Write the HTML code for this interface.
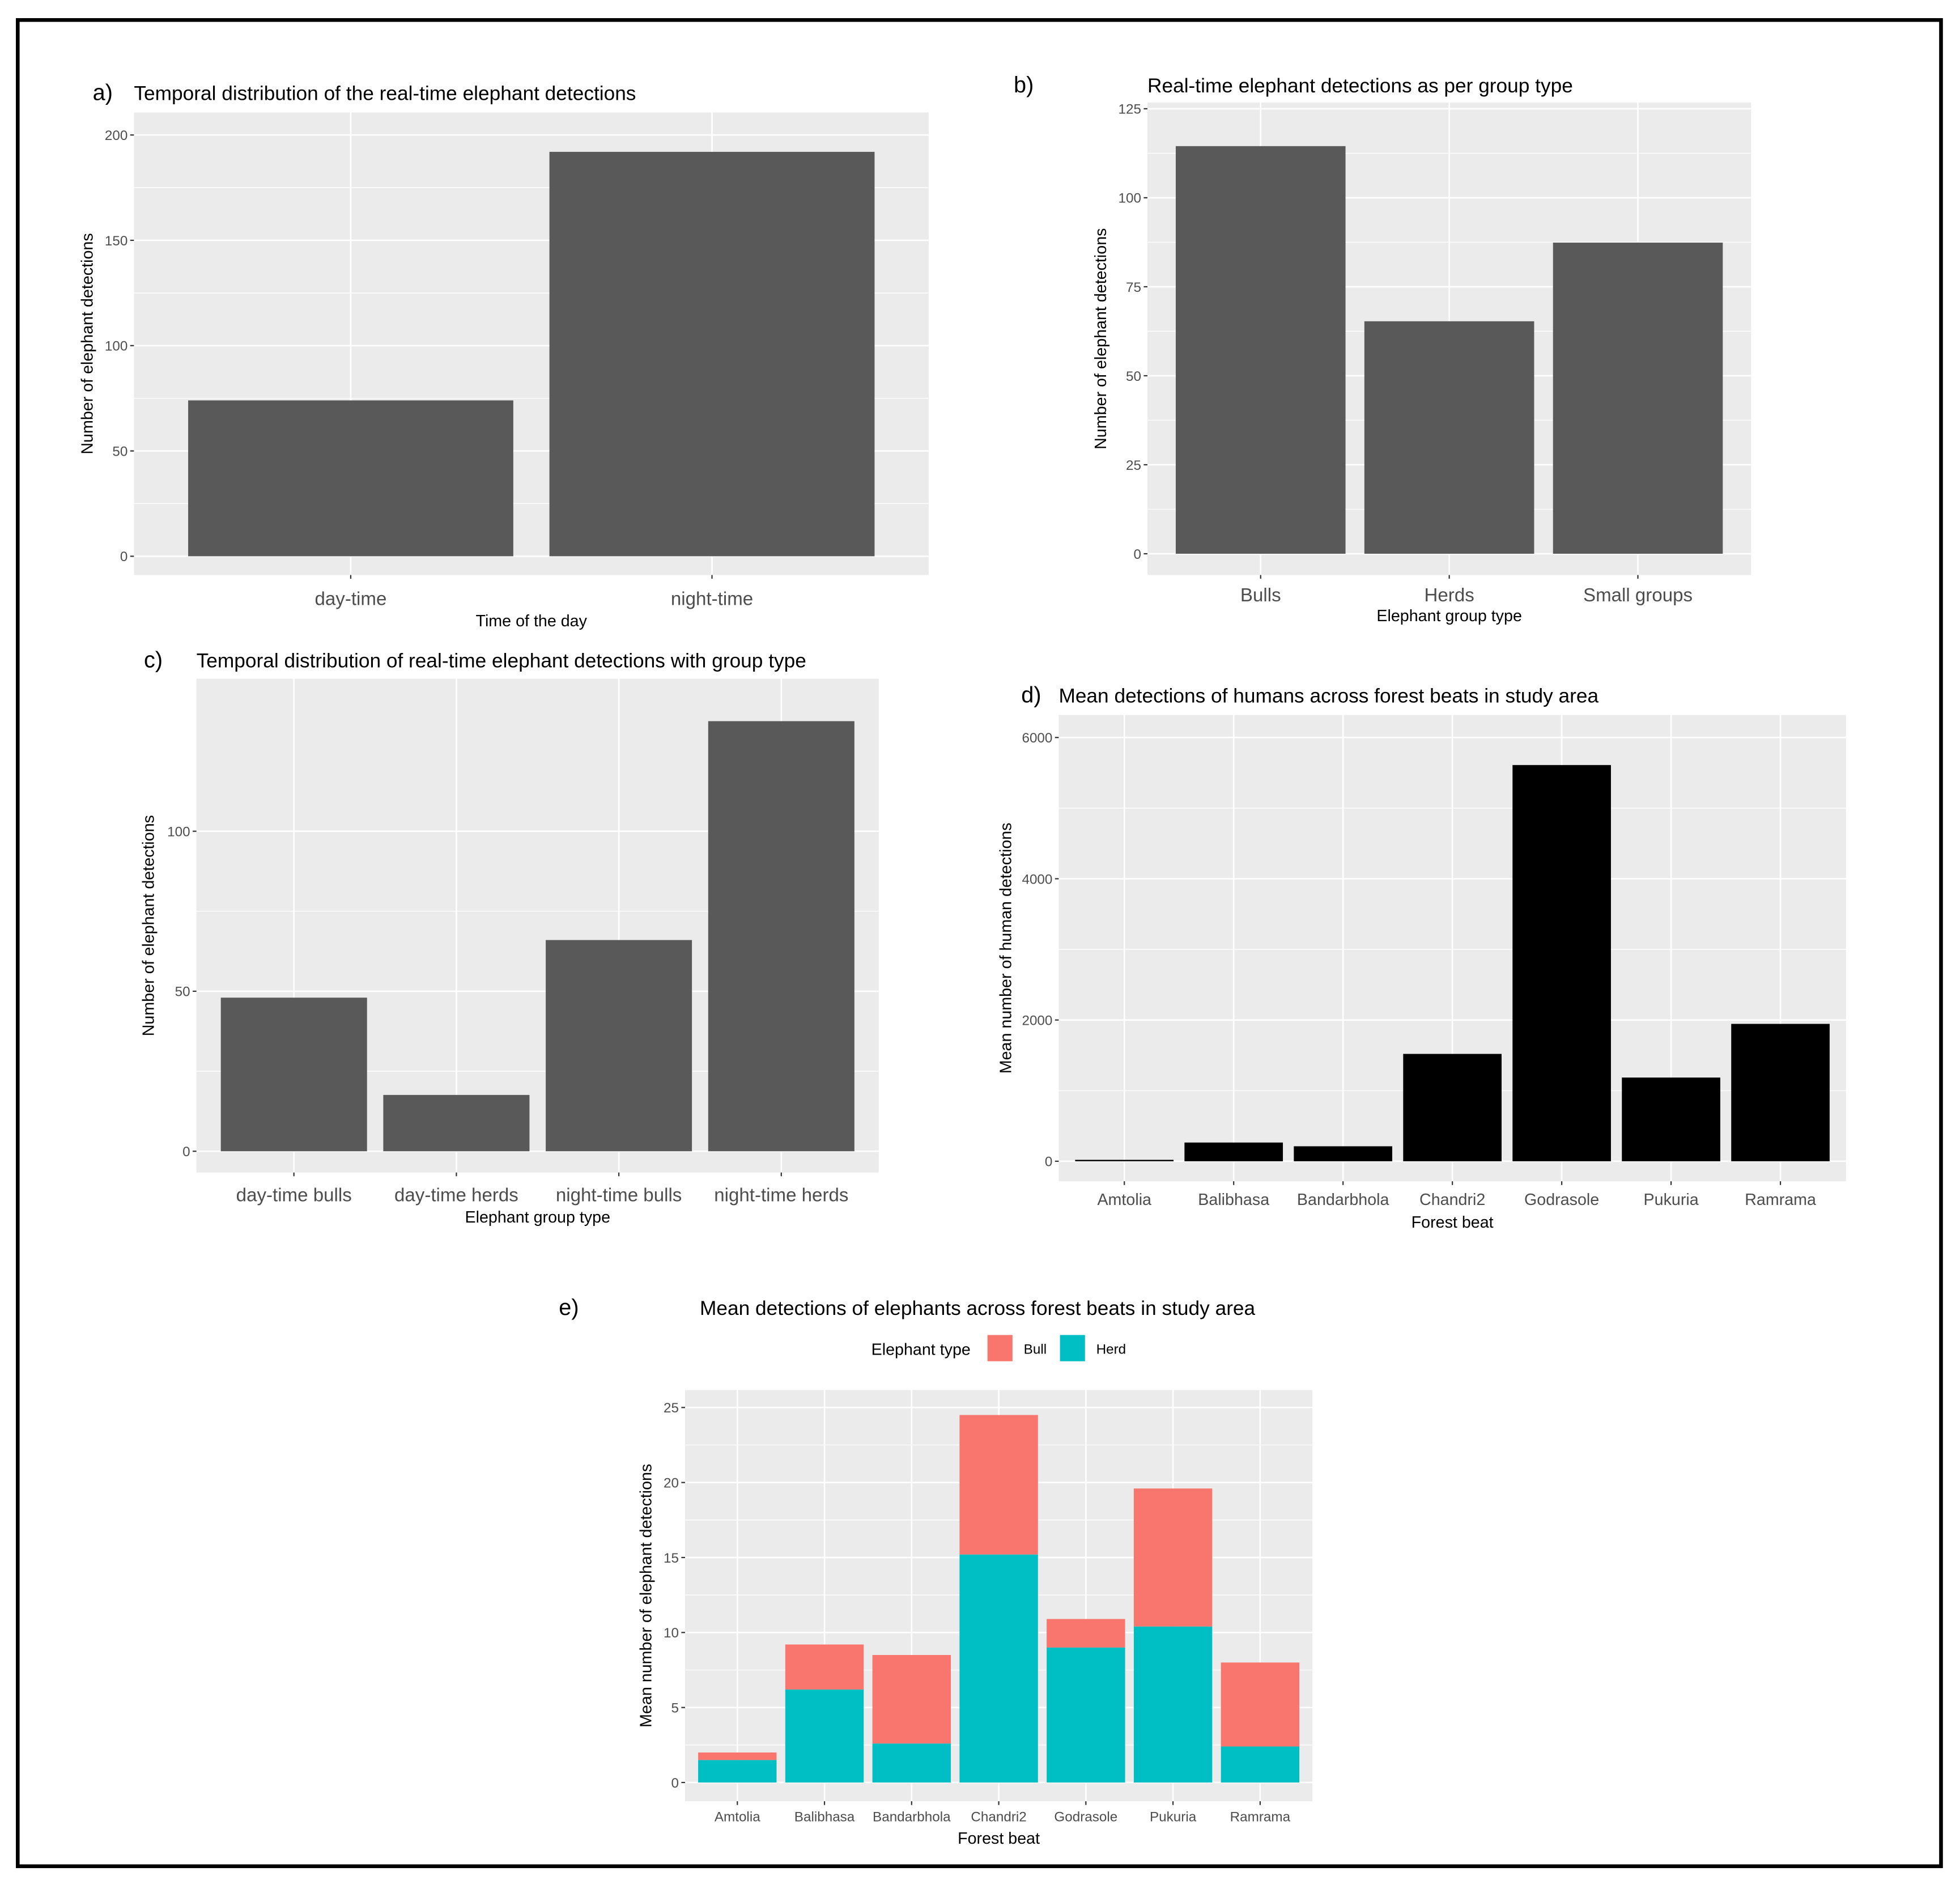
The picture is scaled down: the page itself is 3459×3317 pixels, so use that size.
<!DOCTYPE html>
<html><head><meta charset="utf-8"><style>
html,body{margin:0;padding:0;background:#fff;}
svg{display:block;font-family:"Liberation Sans",Arial,sans-serif;}
</style></head><body>
<svg id="fig" width="3459" height="3317" viewBox="0 0 1568 1504" xmlns="http://www.w3.org/2000/svg">
<rect x="14" y="16" width="1539" height="1477" fill="#fff" stroke="#000" stroke-width="3"/>
</svg>
<script>
// ---- data ----
const aCats=["day-time","night-time"];
const aVals=[74,192];
const aTicks=[0,50,100,150,200];
const bCats=["Bulls","Herds","Small groups"];
const bVals=[114.5,65.3,87.4];
const bTicks=[0,25,50,75,100,125];
const cCats=["day-time bulls","day-time herds","night-time bulls","night-time herds"];
const cVals=[48,17.6,66,134.4];
const cTicks=[0,50,100];
const dCats=["Amtolia","Balibhasa","Bandarbhola","Chandri2","Godrasole","Pukuria","Ramrama"];
const dVals=[20,265,212,1520,5610,1185,1945];
const dTicks=[0,2000,4000,6000];
const eCats=["Amtolia","Balibhasa","Bandarbhola","Chandri2","Godrasole","Pukuria","Ramrama"];
const eHerd=[1.5,6.2,2.6,15.2,9.0,10.4,2.4];
const eBull=[0.5,3.0,5.9,9.3,1.9,9.2,5.6];
const eTicks=[0,5,10,15,20,25];

const svg=document.getElementById('fig');
const NS="http://www.w3.org/2000/svg";
function mk(tag,attrs,parent){const e=document.createElementNS(NS,tag);for(const k in attrs)e.setAttribute(k,attrs[k]);(parent||svg).appendChild(e);return e;}
function txt(s,x,y,size,anchor,parent,rot){const t=mk('text',{x:x,y:y,'font-size':size,'text-anchor':anchor||'middle',fill:'#000'},parent);if(rot)t.setAttribute('transform','rotate(-90 '+x+' '+y+')');t.textContent=s;return t;}

function panel(o){
  const g=mk('g',{});
  
  
  const bg=mk('rect',{x:o.x0,y:o.y0,width:o.x1-o.x0,height:o.y1-o.y0,fill:'#EBEBEB'},g);
  
  
  const yS=v=>o.yZero-(v/o.yMax)*(o.yZero-o.yTop);
  const n=o.cats.length;
  const bw=(o.x1-o.x0)/(n+0.2);
  const xC=i=>o.x0+bw*0.6+bw*i;
  for(let i=0;i<o.ticks.length-1;i++){const m=(o.ticks[i]+o.ticks[i+1])/2;mk('line',{x1:o.x0,x2:o.x1,y1:yS(m),y2:yS(m),stroke:'#fff','stroke-width':0.6},g);}
  o.ticks.forEach(t=>{
    const yy=yS(t);
    mk('line',{x1:o.x0,x2:o.x1,y1:yy,y2:yy,stroke:'#fff','stroke-width':1.2},g);
    mk('line',{x1:o.x0-3,x2:o.x0,y1:yy,y2:yy,stroke:'#333','stroke-width':1},g);
    const tl=txt(String(t),o.x0-5,yy+4,o.tickSize||11,'end',g);tl.setAttribute('fill','#4d4d4d');
    
    
  });
  o.cats.forEach((c,i)=>{
    const xx=xC(i);
    mk('line',{x1:xx,x2:xx,y1:o.y0,y2:o.y1,stroke:'#fff','stroke-width':1.2},g);
    mk('line',{x1:xx,x2:xx,y1:o.y1,y2:o.y1+3,stroke:'#333','stroke-width':1},g);
    const w=bw*0.9;
    if(o.stack){
      const hb=o.stack[0][i], bb=o.stack[1][i];
      const r1=mk('rect',{x:xx-w/2,y:yS(hb),width:w,height:yS(0)-yS(hb),fill:'#00BFC4'},g);
      
      
      const r2=mk('rect',{x:xx-w/2,y:yS(hb+bb),width:w,height:yS(hb)-yS(hb+bb),fill:'#F8766D'},g);
      
      
    } else {
      const v=o.vals[i];
      const h=Math.max(yS(0)-yS(v),1);
      const r=mk('rect',{x:xx-w/2,y:yS(0)-h,width:w,height:h,fill:o.color},g);
      
      
    }
    const xl=txt(c,xx,o.y1+o.xlabOff,o.xlabSize,'middle',g);xl.setAttribute('fill','#4d4d4d');
    
    
  });
  const xt=txt(o.xTitle,(o.x0+o.x1)/2,o.y1+o.xTitleOff,o.axSize||13,'middle',g);
  
  
  const yt=txt(o.yTitle,o.yTitleX,(o.y0+o.y1)/2,o.axSize||13,'middle',g,true);
  
  
  const lt=txt(o.letter,o.letterX,o.letterY,18,'start',g);
  
  
  const tt=txt(o.title,o.titleX,o.letterY,16,o.titleAnchor||'start',g);
  
  
}

panel({name:'panel-a',x0:107,x1:743,y0:90,y1:460,yZero:445,yTop:108,yMax:200,cats:aCats,vals:aVals,ticks:aTicks,color:'#595959',
  xlabOff:24,xlabSize:15,xTitle:'Time of the day',xTitleOff:41,yTitle:'Number of elephant detections',yTitleX:74,
  letter:'a)',letterX:74,letterY:80,title:'Temporal distribution of the real-time elephant detections',titleX:107});
panel({name:'panel-b',x0:918,x1:1401,y0:82,y1:460,yZero:443,yTop:87,yMax:125,cats:bCats,vals:bVals,ticks:bTicks,color:'#595959',
  xlabOff:21,xlabSize:15,xTitle:'Elephant group type',xTitleOff:37,yTitle:'Number of elephant detections',yTitleX:885,
  letter:'b)',letterX:811,letterY:74,title:'Real-time elephant detections as per group type',titleX:918});
panel({name:'panel-c',x0:157,x1:703,y0:543,y1:938,yZero:921,yTop:665,yMax:100,cats:cCats,vals:cVals,ticks:cTicks,color:'#595959',
  xlabOff:23,xlabSize:15,xTitle:'Elephant group type',xTitleOff:40,yTitle:'Number of elephant detections',yTitleX:123,
  letter:'c)',letterX:115,letterY:534,title:'Temporal distribution of real-time elephant detections with group type',titleX:157});
panel({name:'panel-d',x0:847,x1:1477,y0:572,y1:945,yZero:929,yTop:590,yMax:6000,cats:dCats,vals:dVals,ticks:dTicks,color:'#000',
  xlabOff:19,xlabSize:13,xTitle:'Forest beat',xTitleOff:37,yTitle:'Mean number of human detections',yTitleX:809,
  letter:'d)',letterX:817,letterY:562,title:'Mean detections of humans across forest beats in study area',titleX:847});
panel({name:'panel-e',x0:548,x1:1050,y0:1112,y1:1441,yZero:1426,yTop:1126,yMax:25,cats:eCats,stack:[eHerd,eBull],ticks:eTicks,
  xlabOff:16,xlabSize:11,xTitle:'Forest beat',xTitleOff:34,yTitle:'Mean number of elephant detections',yTitleX:521,
  letter:'e)',letterX:447,letterY:1052,title:'Mean detections of elephants across forest beats in study area',titleX:782,titleAnchor:'middle'});

const lg=mk('g',{});


txt('Elephant type',697,1084,13,'start',lg);
const s1=mk('rect',{x:790,y:1068,width:20,height:21,fill:'#F8766D'},lg);


txt('Bull',819,1083,11,'start',lg);
const s2=mk('rect',{x:848,y:1068,width:20,height:21,fill:'#00BFC4'},lg);


txt('Herd',877,1083,11,'start',lg);
</script>
</body></html>
